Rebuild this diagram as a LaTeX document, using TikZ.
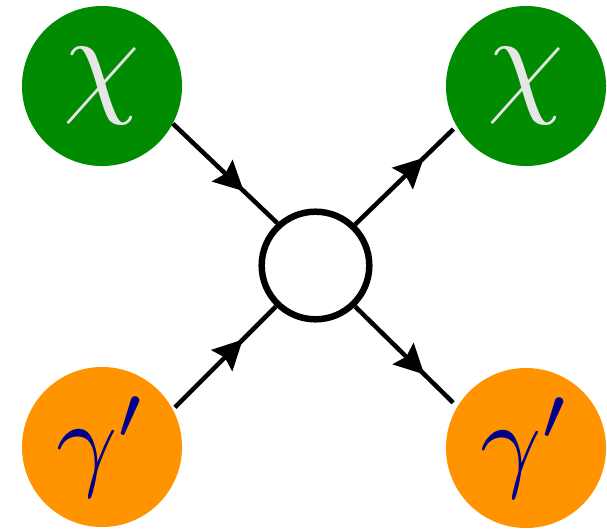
\documentclass[tikz,border=0pt]{standalone}
\usepackage{graphicx}
\usetikzlibrary{arrows.meta,decorations.markings}
\definecolor{chigreen}{RGB}{0,139,0}
\definecolor{chigray}{RGB}{230,230,230}
\definecolor{photonorange}{RGB}{255,148,0}
\definecolor{photonblue}{RGB}{0,0,140}
\newcommand{\bigsym}[2]{\scalebox{#1}{$#2$}}

\begin{document}
\begin{tikzpicture}
		[x=0.025cm, y=-0.025cm,
		particle/.style={circle, minimum size=4cm, inner sep=0pt},
		darkmatter/.style={particle, fill=chigreen, text=chigray},
		darkphoton/.style={particle, fill=photonorange, text=photonblue},
		leg/.style={line width=3.2pt, postaction={decorate},
			decoration={markings, mark=at position 0.68 with {\arrow{Stealth[length=21pt,width=21pt,inset=3pt]}}}}]
		\useasboundingbox (0,0) rectangle (607,529);
		\node[darkmatter] (chiIn) at (102,86) {\bigsym{8.7}{\chi}};
		\node[darkmatter] (chiOut) at (526,86) {\bigsym{8.7}{\chi}};
		\node[darkphoton] (gamIn) at (102,447) {\raisebox{8pt}{\bigsym{7.6}{\gamma'}}};
		\node[darkphoton] (gamOut) at (526,448) {\raisebox{8pt}{\bigsym{7.6}{\gamma'}}};
		\node[draw, circle, line width=4.6pt, minimum size=2.69cm, inner sep=0pt] (vtx) at (315.5,265.5) {};

		\draw[leg] (chiIn.-28) -- (vtx.132);
		\draw[leg, shorten >=3pt] (vtx.46) -- (chiOut.210);
		\draw[leg, shorten <=2pt] (gamIn.28) -- (vtx.226);
		\draw[leg, shorten >=4pt] (vtx.-46) -- (gamOut.149);
	\end{tikzpicture}
\end{document}
